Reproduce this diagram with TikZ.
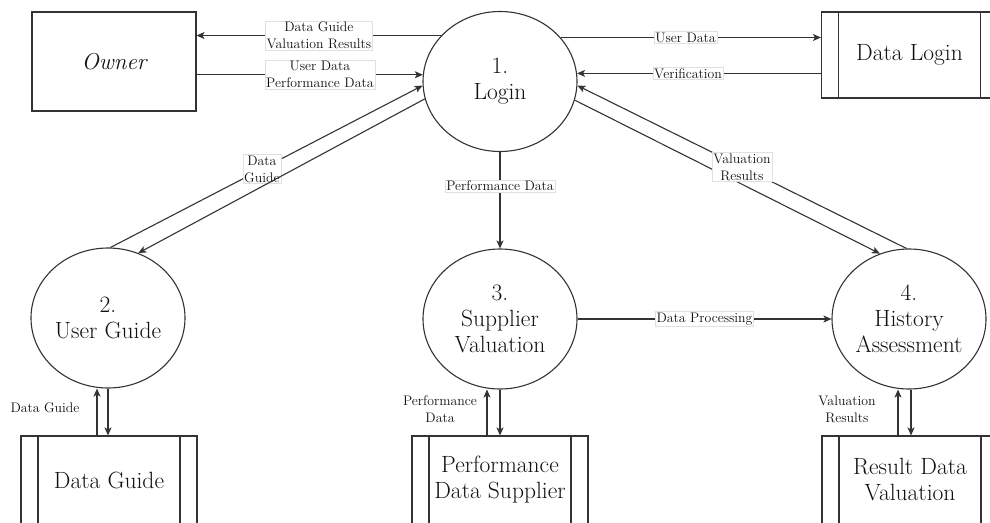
\documentclass[tikz,border=0pt]{standalone}
\usetikzlibrary{arrows.meta,shapes.geometric}

\definecolor{edgegrey}{HTML}{333333}
\definecolor{ink}{HTML}{111111}

\begin{document}
\begin{tikzpicture}[x=1pt,y=-1pt,
  proc/.style={ellipse, draw=edgegrey, line width=1.1pt, minimum width=154pt,
    minimum height=140pt, inner sep=0pt, align=center, text=ink,
    font=\fontsize{23.5}{26}\selectfont},
  ext/.style={rectangle, draw=edgegrey, line width=1.1pt, minimum width=164pt,
    minimum height=99pt, text=ink, font=\fontsize{23}{26}\selectfont\itshape},
  store/.style={rectangle, draw=edgegrey, line width=1.1pt, minimum width=176pt,
    minimum height=88pt, inner sep=0pt, align=center, text=ink,
    font=\fontsize{23.5}{26}\selectfont,
    path picture={
      \draw[edgegrey, line width=1.1pt]
        ([xshift=17pt]path picture bounding box.north west) --
        ([xshift=17pt]path picture bounding box.south west);
      \draw[edgegrey, line width=1.1pt]
        ([xshift=-17pt]path picture bounding box.north east) --
        ([xshift=-17pt]path picture bounding box.south east);}},
  arr/.style={draw=edgegrey, line width=1.1pt,
    -{Stealth[length=8pt,width=7pt,inset=2pt]}},
  flow/.style={fill=white, draw=black!12, line width=0.4pt, inner sep=1.2pt,
    align=center, text=ink, font=\fontsize{13.8}{17}\selectfont},
  note/.style={inner sep=0pt, align=center, text=ink,
    font=\fontsize{13.8}{17}\selectfont}]

\useasboundingbox (0,0) rectangle (990,522);
\clip (0,0) rectangle (990,522);

% external entity, processes and data stores
\node[ext] (owner) at (114,61.5) {Owner};
\node[proc] (login) at (500,81.5) {1.\\Login};
\node[store, minimum height=86pt] (dl) at (909.5,55) {Data Login};
\node[proc] (ug) at (108,318) {2.\\User Guide};
\node[proc] (sv) at (500,319) {3.\\Supplier\\Valuation};
\node[proc] (ha) at (909,319) {4.\\History\\Assessment};
\node[store] (dgs) at (109,480) {Data Guide};
\node[store] (pds) at (500,480) {Performance\\Data Supplier};
\node[store] (rdv) at (910,480) {Result Data\\Valuation};

% owner <-> login
\draw[arr] (login.142) -- (login.142 -| owner.east)
  node[flow, pos=0.5] {Data Guide\\Valuation Results};
\draw[arr] (owner.east |- login.175) -- (login.175)
  node[flow, pos=0.545] {User Data\\Performance Data};

% login <-> data login
\draw[arr] (login.36) -- (login.36 -| dl.west)
  node[flow, pos=0.48] {User Data};
\draw[arr] (dl.west |- login.6) -- (login.6)
  node[flow, pos=0.545] {Verification};

% login -> supplier valuation -> history assessment
\draw[arr] (login.south) -- (sv.north)
  node[flow, pos=0.354] {Performance Data};
\draw[arr] (sv.east) -- (ha.west)
  node[flow, pos=0.5] {Data Processing};

% login <-> user guide
\draw[arr] (ug.88) -- (login.183)
  node[flow, pos=0.485] {Data\\Guide};
\draw[arr] (login.193) -- (ug.65);

% login <-> history assessment
\draw[arr] (login.346) -- (ha.114);
\draw[arr] (ha.92) -- (login.357)
  node[flow, pos=0.5] {Valuation\\Results};

% processes <-> stores
\draw[arr] ([xshift=-12pt]dgs.north) -- ([xshift=-11pt]ug.south);
\draw[arr] (ug.south) -- (ug.south |- dgs.north);
\node[note] (lbdg) at (45,408) {Data Guide};

\draw[arr] ([xshift=-13pt]pds.north) -- ([xshift=-13pt]sv.south);
\draw[arr] (sv.south) -- (sv.south |- pds.north);
\node[note] (lbpd) at (440,409) {Performance\\Data};

\draw[arr] ([xshift=-12pt]rdv.north) -- ([xshift=-11pt]ha.south);
\draw[arr] ([xshift=2pt]ha.south) -- ([xshift=2pt]ha.south |- rdv.north);
\node[note] (lbvr) at (847,409) {Valuation\\Results};

\end{tikzpicture}
\end{document}
